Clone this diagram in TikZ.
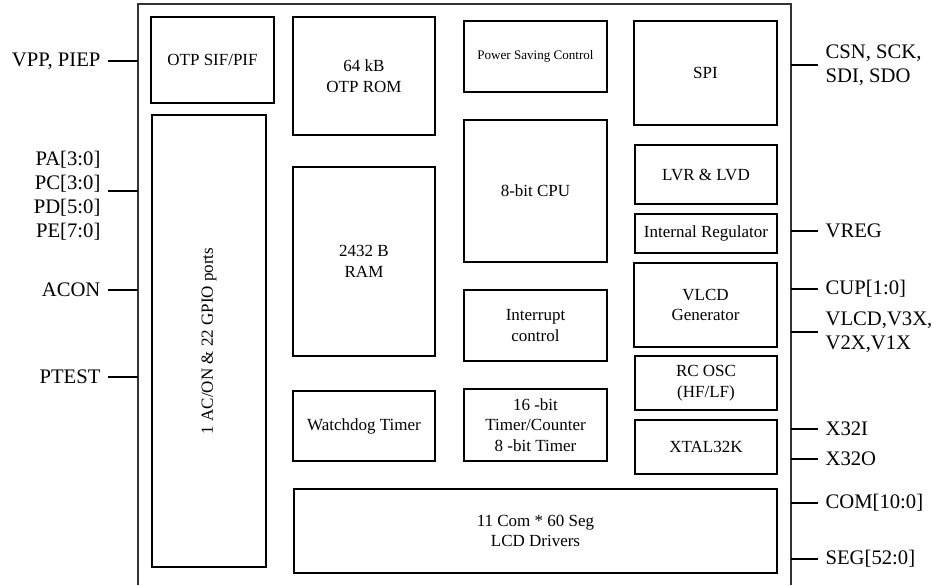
\documentclass[tikz,border=0pt]{standalone}
\usepackage{fontspec}
\setmainfont{Liberation Serif}
\usepackage{xcolor}
\usepackage{tikz}
\usetikzlibrary{positioning, calc}

\begin{document}
\begin{tikzpicture}[
    x=0.75pt, y=-0.75pt,
    box/.style={rectangle, draw=black, line width=0.9pt, align=center, inner sep=2pt, font=\fontsize{12.75}{15.5}\selectfont},
    sz/.style 2 args={minimum width=#1*0.75pt, minimum height=#2*0.75pt},
    sig/.style={inner sep=5.5pt, font=\fontsize{15.5}{18}\selectfont},
    wire/.style={draw=black, line width=0.8pt},
    chip/.style={draw=black!80, line width=1pt}
]
\useasboundingbox (0,0) rectangle (938,585);

% Chip outline (open at the bottom)
\draw[chip] (138,585) -- (138,4) -- (791,4) -- (791,585);
\coordinate (cl) at (138,0);
\coordinate (cr) at (791,0);

% Column 1
\node[box, sz={123}{86}] (otp) at (212.5,60) {OTP SIF/PIF};
\node[box, rotate=90, sz={452}{114}] (gpio) at (209,341) {1 AC/ON \& 22 GPIO ports};

% Column 2: memories
\node[box, sz={142}{118}] (rom) at (364,76) {64 kB\\OTP ROM};
\node[box, sz={142}{189}] (ram) at (364,261.5) {2432 B\\RAM};
\node[box, sz={142}{70}] (wdt) at (364,426) {Watchdog Timer};
\node[box, sz={483}{84}] (lcd) at (535.5,531) {11 Com * 60 Seg\\LCD Drivers};

% Column 3: core
\node[box, sz={143}{71}, font=\fontsize{9.8}{11}\selectfont] (psc) at (535.5,56.5) {Power Saving Control};
\node[box, sz={143}{142}] (cpu) at (535.5,191) {8-bit CPU};
\node[box, sz={143}{71}] (intc) at (535.5,325.5) {Interrupt\\control};
\node[box, sz={143}{72}] (tmr) at (535.5,425) {16 -bit\\Timer/Counter\\8 -bit Timer};

% Column 4: analog and interfaces
\node[box, sz={143}{104}] (spi) at (705.5,73) {SPI};
\node[box, sz={142}{59}] (lvr) at (706,174.5) {LVR \& LVD};
\node[box, sz={142}{39}] (reg) at (706,233.5) {Internal Regulator};
\node[box, sz={143}{84}] (vlcd) at (705.5,305) {VLCD\\Generator};
\node[box, sz={142}{54}] (rcosc) at (706,383) {RC OSC\\(HF/LF)};
\node[box, sz={142}{54}] (xtal) at (706,447) {XTAL32K};

% Left pins
\node[sig, anchor=east] (vpp) at (108,61) {VPP, PIEP};
\node[sig, anchor=east, align=right] (ports) at (108,195.5) {PA[3:0]\\PC[3:0]\\PD[5:0]\\PE[7:0]};
\node[sig, anchor=east] (acon) at (108,290) {ACON};
\node[sig, anchor=east] (ptest) at (108,377) {PTEST};
\draw[wire] (vpp.east) -- (vpp.east -| cl);
\draw[wire] ([yshift=3.4pt]ports.east) -- ([yshift=3.4pt]ports.east -| cl);
\draw[wire] (acon.east) -- (acon.east -| cl);
\draw[wire] (ptest.east) -- (ptest.east -| cl);

% Right pins
\node[sig, anchor=west, align=left] (spipins) at (818,65) {CSN, SCK,\\SDI, SDO};
\node[sig, anchor=west] (vreg) at (818,231) {VREG};
\node[sig, anchor=west] (cup) at (818,289) {CUP[1:0]};
\node[sig, anchor=west, align=left] (vpins) at (818,332) {VLCD,V3X,\\V2X,V1X};
\node[sig, anchor=west] (x32i) at (818,429) {X32I};
\node[sig, anchor=west] (x32o) at (818,459) {X32O};
\node[sig, anchor=west] (com) at (818,503) {COM[10:0]};
\node[sig, anchor=west] (seg) at (818,559) {SEG[52:0]};
\foreach \p in {spipins, vreg, cup, vpins, x32i, x32o, com, seg}
    \draw[wire] (\p.west) -- (\p.west -| cr);

\end{tikzpicture}
\end{document}
